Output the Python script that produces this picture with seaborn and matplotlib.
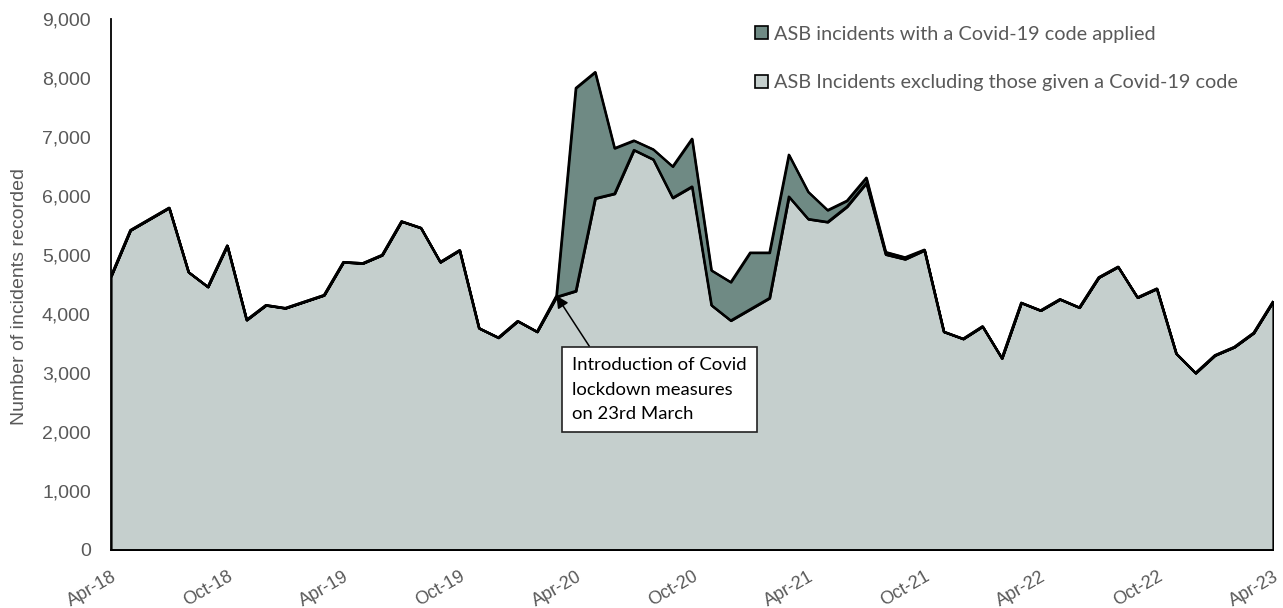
import numpy as np
import pandas as pd
import matplotlib
matplotlib.use("Agg")
import matplotlib.pyplot as plt
from matplotlib.patches import Patch
from matplotlib.ticker import FuncFormatter
import seaborn as sns

# monthly values, Apr-18 .. Apr-23
months = pd.date_range("2018-04-01", "2023-04-01", freq="MS")
excl_covid = [4640, 5420, 5610, 5800, 4710, 4460, 5160, 3900, 4150, 4100,
              4210, 4320, 4880, 4860, 5000, 5570, 5460, 4880, 5080, 3760,
              3600, 3880, 3700, 4290, 4390, 5960, 6040, 6780, 6620, 5970,
              6160, 4150, 3890, 4080, 4270, 5990, 5610, 5560, 5820, 6220,
              5010, 4930, 5080, 3700, 3580, 3790, 3250, 4190, 4060, 4250,
              4110, 4620, 4800, 4280, 4430, 3330, 3000, 3300, 3440, 3680,
              4210]
covid_code = [0] * 23 + [20, 3440, 2140, 770, 160, 170, 530, 810, 590, 650,
                         960, 770, 710, 460, 200, 100, 90, 40, 30, 10] + [0] * 18

tick_labels = ["Apr-18", "Oct-18", "Apr-19", "Oct-19", "Apr-20", "Oct-20",
               "Apr-21", "Oct-21", "Apr-22", "Oct-22", "Apr-23"]

df = pd.DataFrame({"month": months, "excl": excl_covid, "covid": covid_code})
df["idx"] = np.arange(len(df))
df["total"] = df["excl"] + df["covid"]

light = "#c5cfcd"
dark = "#6f8a84"
grey = "#595959"

sns.set_style("white")
plt.rcParams["font.family"] = ["Liberation Sans", "DejaVu Sans"]

fig = plt.figure(figsize=(12.83, 6.08), dpi=100)
ax = fig.add_axes([0.0865, 0.0954, 0.9057, 0.8734])

ax.fill_between(df["idx"], 0, df["excl"], facecolor=light, edgecolor="black", lw=1.6)
ax.fill_between(df["idx"], df["excl"], df["total"], facecolor=dark, edgecolor="black", lw=1.6)
sns.lineplot(data=df, x="idx", y="total", color="black", lw=1.6, ax=ax)
sns.lineplot(data=df, x="idx", y="excl", color="black", lw=1.6, ax=ax)

ax.set_xlim(0, len(df) - 1)
ax.set_ylim(0, 9000)
ax.set_yticks(range(0, 9001, 1000))
ax.yaxis.set_major_formatter(FuncFormatter(lambda v, p: f"{int(v):,}"))
ax.set_xticks(range(0, len(df), 6))
ax.set_xticklabels(tick_labels, rotation=30, ha="right", rotation_mode="anchor")

for s in ["top", "right"]:
    ax.spines[s].set_visible(False)
for s in ["left", "bottom"]:
    ax.spines[s].set_color("black")
    ax.spines[s].set_linewidth(1.3)
ax.tick_params(axis="both", which="major", direction="out", length=6, width=1.2,
               color="black", labelcolor=grey)
ax.tick_params(axis="y", pad=8.5, labelsize=14)
ax.tick_params(axis="x", pad=7, labelsize=13)

ax.set_xlabel("")
ax.set_ylabel("Number of incidents recorded", color=grey, fontsize=14)
ax.yaxis.set_label_coords(-0.0714, 0.478)

# annotation box for lockdown
ax.annotate("Introduction of Covid\nlockdown measures\non 23rd March",
            xy=(23, df["total"][23]), xytext=(23.8, 3270),
            fontsize=13.3, family="Lato", color="black", va="top", ha="left",
            linespacing=1.65,
            bbox=dict(boxstyle="square,pad=0.55", fc="white", ec="#222222", lw=1.2),
            arrowprops=dict(arrowstyle="-|>", color="black", lw=1.1,
                            mutation_scale=18, relpos=(0.14, 1.0), shrinkA=0, shrinkB=0))

handles = [Patch(facecolor=dark, edgecolor="black", lw=1.2,
                 label="ASB incidents with a Covid-19 code applied"),
           Patch(facecolor=light, edgecolor="black", lw=1.2,
                 label="ASB Incidents excluding those given a Covid-19 code")]
leg = ax.legend(handles=handles, loc="upper left", bbox_to_anchor=(0.539, 1.021),
                frameon=False, labelspacing=1.6, handlelength=0.65, handleheight=0.65,
                handletextpad=0.3, prop={"family": "Lato", "size": 14.3})
for t in leg.get_texts():
    t.set_color(grey)

fig.savefig("out.png", dpi=100)
